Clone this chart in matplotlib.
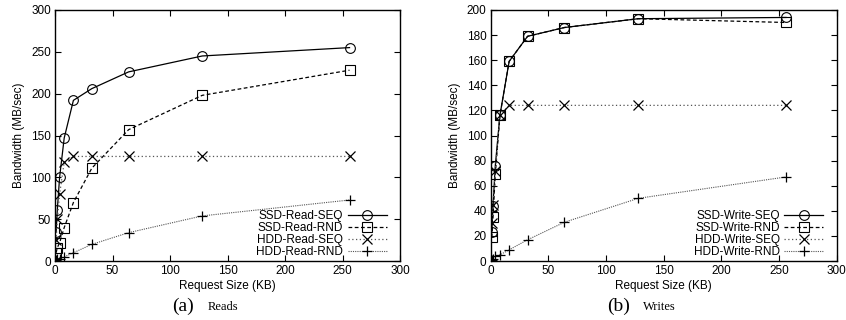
import matplotlib
matplotlib.use("Agg")
import matplotlib.pyplot as plt

plt.rcParams['font.family'] = ['Liberation Sans', 'DejaVu Sans']

sizes = [1, 2, 4, 8, 16, 32, 64, 128, 256]

read_ssd_seq = [35, 61, 100, 147, 192, 206, 226, 245, 255]
read_ssd_rnd = [10, 16, 22, 40, 70, 111, 157, 198, 228]
read_hdd_seq = [25, 50, 80, 118, 125, 125, 125, 125, 125]
read_hdd_rnd = [1, 2, 3, 5, 10, 20, 34, 54, 73]

write_ssd_seq = [23, 44, 76, 116, 159, 179, 186, 193, 194]
write_ssd_rnd = [19, 35, 69, 116, 159, 179, 186, 193, 190]
write_hdd_seq = [30, 45, 72, 116, 124, 124, 124, 124, 124]
write_hdd_rnd = [1, 2, 4, 5, 9, 17, 31, 50, 67]

read_labels = ['SSD-Read-SEQ', 'SSD-Read-RND', 'HDD-Read-SEQ', 'HDD-Read-RND']
write_labels = ['SSD-Write-SEQ', 'SSD-Write-RND', 'HDD-Write-SEQ', 'HDD-Write-RND']

fig = plt.figure(figsize=(8.46, 3.2), dpi=100)
ax1 = fig.add_axes([0.065, 0.184, 0.408, 0.785])
ax2 = fig.add_axes([0.580, 0.184, 0.409, 0.785])

styles = [
    dict(marker='o', linestyle='-', color='black', ms=7, lw=0.9, mew=0.8),
    dict(marker='s', linestyle=(0, (3, 2)), color='black', ms=7, lw=0.9, mew=0.8),
    dict(marker='x', linestyle=(0, (1, 2)), color='#555555', mec='black', ms=7, lw=0.9, mew=0.9),
    dict(marker='+', linestyle=(0, (1, 1)), color='#555555', mec='black', ms=7, lw=0.8, mew=0.9),
]

def draw(ax, series, labels, ymax, ystep):
    for ys, lab, st in zip(series, labels, styles):
        ax.plot(sizes, ys, label=lab, mfc='none', **st)
    ax.set_xlim(0, 300)
    ax.set_ylim(0, ymax)
    ax.set_xticks(range(0, 301, 50))
    ax.set_yticks(range(0, ymax + 1, ystep))
    ax.tick_params(direction='in', top=True, right=True, labelsize=8.5, length=4, width=0.8, pad=3)
    for s in ax.spines.values():
        s.set_linewidth(1.0)
    ax.set_xlabel('Request Size (KB)', fontsize=8.5, labelpad=2)
    ax.set_ylabel('Bandwidth (MB/sec)', fontsize=8.5, labelpad=4)
    ax.legend(loc='lower right', bbox_to_anchor=(0.975, -0.005), frameon=False,
              markerfirst=False, fontsize=8.5,
              handlelength=3.3, handletextpad=0.4, labelspacing=0.0,
              borderaxespad=0.0)

draw(ax1, [read_ssd_seq, read_ssd_rnd, read_hdd_seq, read_hdd_rnd], read_labels, 300, 50)
draw(ax2, [write_ssd_seq, write_ssd_rnd, write_hdd_seq, write_hdd_rnd], write_labels, 200, 20)

fig.text(172 / 846, 1 - 306 / 320, '(a)', family='Liberation Serif', fontsize=14, va='center', ha='left')
fig.text(208 / 846, 1 - 307 / 320, 'Reads', family='Liberation Serif', fontsize=9, va='center', ha='left')
fig.text(607 / 846, 1 - 306 / 320, '(b)', family='Liberation Serif', fontsize=14, va='center', ha='left')
fig.text(643 / 846, 1 - 307 / 320, 'Writes', family='Liberation Serif', fontsize=9, va='center', ha='left')

fig.savefig('out.png', dpi=100)
